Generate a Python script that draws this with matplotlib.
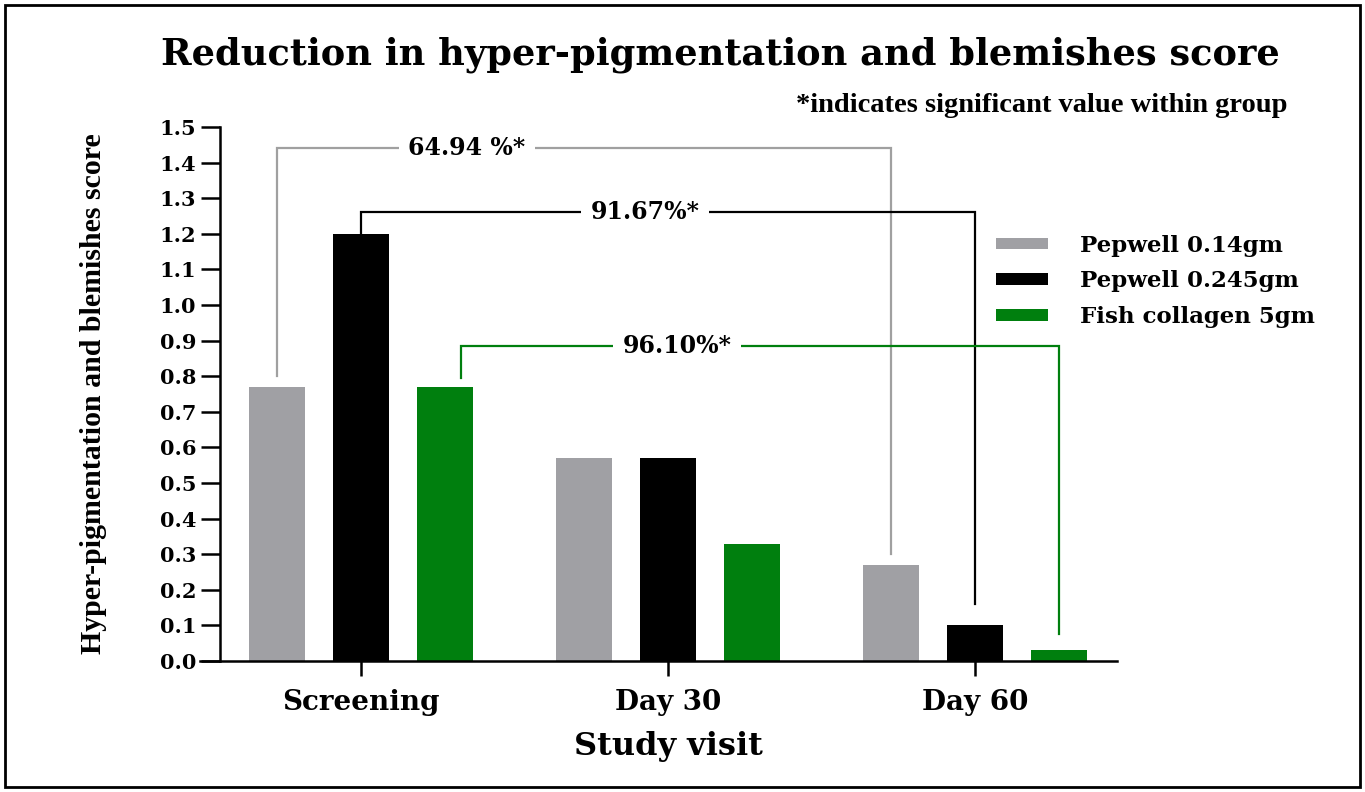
import matplotlib
matplotlib.use("Agg")
import matplotlib.pyplot as plt
from matplotlib.patches import Rectangle, Patch
import numpy as np

WIDE = ['DejaVu Serif']
NARROW = ['Liberation Serif', 'DejaVu Serif']
plt.rcParams['font.family'] = WIDE
plt.rcParams['font.weight'] = 'bold'

categories = ["Screening", "Day 30", "Day 60"]
series_names = ["Pepwell 0.14gm", "Pepwell 0.245gm", "Fish collagen 5gm"]
pepwell_014 = [0.77, 0.57, 0.27]
pepwell_0245 = [1.20, 0.57, 0.10]
fish_collagen = [0.77, 0.33, 0.03]
colors = ["#A0A0A4", "#000000", "#007F0E"]
y_ticks = [round(0.1 * i, 1) for i in range(16)]

# brackets: (left x, left y bottom, top y, right x, right y bottom, label, label x, color)
brackets = [
    (-0.2736, 0.80, 1.44, 1.7264, 0.30, "64.94 %*", 0.345, "#A0A0A0"),
    (0.0, 1.20, 1.26, 2.0, 0.16, "91.67%*", 0.925, "#000000"),
    (0.326, 0.795, 0.885, 2.2736, 0.075, "96.10%*", 1.03, "#007F0E"),
]

fig = plt.figure(figsize=(13.65, 7.92), dpi=100)
ax = fig.add_axes([220/1365, 1-661/792, (1117-220)/1365, (661-127)/792])
ax.spines['bottom'].set_position(('data', 0))

x = np.arange(len(categories))
off = 0.2736
w = 0.182
for i, (vals, c, name) in enumerate(zip([pepwell_014, pepwell_0245, fish_collagen], colors, series_names)):
    ax.bar(x + (i - 1) * off, vals, width=w, color=c, label=name, zorder=2)

for lx, ly, ty, rx, ry, lab, tx, c in brackets:
    ax.plot([lx, lx, rx, rx], [ly, ty, ty, ry], color=c, lw=1.6, zorder=1, solid_joinstyle='miter')
    ax.text(tx, ty, lab, ha='center', va='center', fontsize=17, fontweight='bold',
            bbox=dict(facecolor='white', edgecolor='none', pad=7), zorder=3)

ax.set_xlim(-0.459, 2.4625)
ax.set_ylim(0, 1.5)
ax.set_yticks(y_ticks)
ax.set_yticklabels([f"{t:.1f}" for t in y_ticks], fontsize=15, fontweight='bold')
ax.set_xticks(x)
ax.set_xticklabels(categories, fontsize=20, fontweight='bold')
ax.tick_params(axis='y', length=14, width=1.8, direction='out', pad=3)
ax.tick_params(axis='x', length=11, width=1.8, direction='out', pad=9)
for s in ['top', 'right']:
    ax.spines[s].set_visible(False)
for s in ['left', 'bottom']:
    ax.spines[s].set_linewidth(1.8)
ax.spines['bottom'].set_bounds(-0.459 - 20/307, 2.4625)

ax.set_xlabel("Study visit", fontsize=23, fontweight='bold', labelpad=11)
ax.set_ylabel("Hyper-pigmentation and blemishes score", fontsize=21.5, fontweight='bold',
              labelpad=38, family=NARROW)

handles = [Patch(facecolor=c, edgecolor='none') for c in colors]
leg = fig.legend(handles, series_names, loc='upper left', bbox_to_anchor=(975/1365, 1-214/792),
                 frameon=False, handlelength=2.3, handleheight=0.42,
                 handletextpad=1.4, labelspacing=0.6, prop={'weight': 'bold', 'size': 16.5, 'family': WIDE})

fig.text(720/1365, 1-55/792, "Reduction in hyper-pigmentation and blemishes score",
         ha='center', va='center', fontsize=26.5, fontweight='bold')
fig.text(1288/1365, 1-105/792, "*indicates significant value within group",
         ha='right', va='center', fontsize=20.5, fontweight='bold', family=NARROW)

fig.add_artist(Rectangle((5/1365, 5/792), 1355/1365, 782/792, transform=fig.transFigure,
                         fill=False, edgecolor='black', lw=2))

fig.savefig("out.png", dpi=100)
